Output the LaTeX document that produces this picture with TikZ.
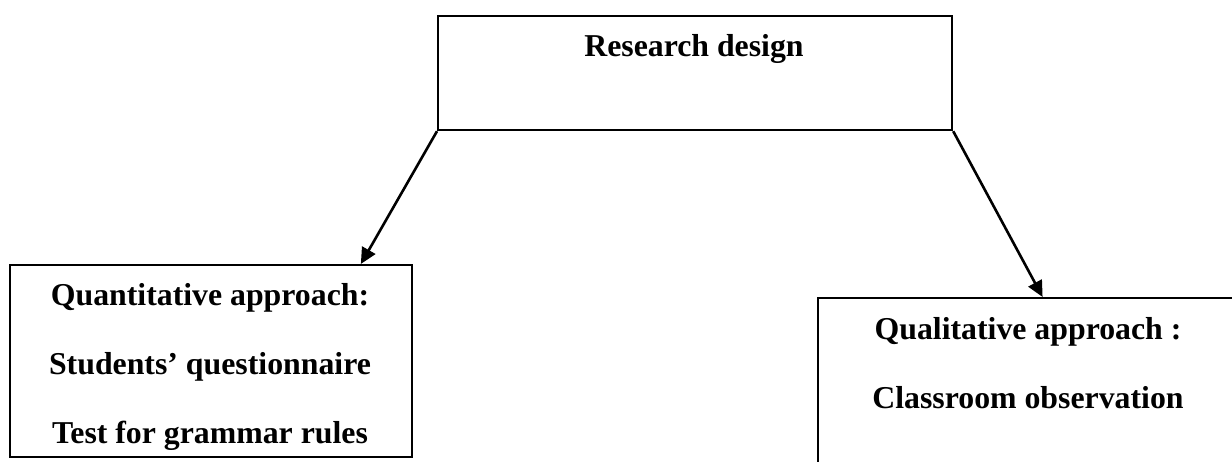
\documentclass[tikz,border=0pt]{standalone}
\usepackage{fontspec}
\setmainfont{Liberation Serif}
\usetikzlibrary{arrows.meta,calc}
\begin{document}
\begin{tikzpicture}[x=1pt,y=-1pt,
  box/.style={draw, line width=2.2pt, inner sep=0pt, anchor=north west},
  txt/.style={font=\fontsize{31.8}{36}\selectfont\bfseries, anchor=base, inner sep=0pt},
  arr/.style={line width=2.6pt, -{Triangle[length=16pt,width=15pt]}}]
\useasboundingbox (0,0) rectangle (1232,461);
% top box
\node[box, minimum width=514pt, minimum height=114pt] (top) at (437,15) {};
\node[txt] (toptext) at (694,56) {Research design};
% left box
\node[box, minimum width=402.5pt, minimum height=192pt] (qn) at (8.5,264) {};
\node[txt] (qn1) at (210,305) {Quantitative approach:};
\node[txt] (qn2) at (210,374) {Students’ questionnaire};
\node[txt] (qn3) at (210,443) {Test for grammar rules};
% right box (runs off the page)
\node[box, minimum width=423pt, minimum height=200pt] (ql) at (817,297) {};
\node[txt] (ql1) at (1028,339) {Qualitative approach :};
\node[txt] (ql2) at (1028,408) {Classroom observation};
% arrows
\draw[arr] (top.south west) -- ([xshift=150pt]qn.north);
\draw[arr] (top.south east) -- ([xshift=13pt]ql.north);
\end{tikzpicture}
\end{document}
